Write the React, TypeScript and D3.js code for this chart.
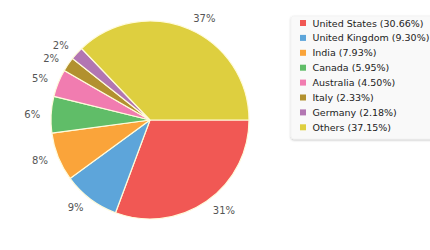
import React from "react";
import * as d3 from "d3";

const categories = ["United States", "United Kingdom", "India", "Canada", "Australia", "Italy", "Germany", "Others"];
const values = [30.66, 9.30, 7.93, 5.95, 4.50, 2.33, 2.18, 37.15];
const colors = ["#F15854", "#5DA5DA", "#FAA43A", "#60BD68", "#F17CB0", "#B2912F", "#B276B2", "#DECF3F"];

const W = 430;
const H = 250;
const cx = 150;
const cy = 120;
const R = 99;
const labelR = 110;
const font = "'DejaVu Sans', Verdana, sans-serif";

export default function App() {
  const data = categories.map((c, i) => ({ name: c, value: values[i], color: colors[i] }));
  const pie = d3
    .pie<any>()
    .sort(null)
    .value((d: any) => d.value)
    .startAngle(Math.PI / 2)
    .endAngle(Math.PI / 2 + 2 * Math.PI);
  const arcs = pie(data);
  const arc = d3.arc<any>().innerRadius(0).outerRadius(R);
  const total = d3.sum(values);

  return (
    <svg width={W} height={H} style={{ position: "absolute", left: 0, top: 0, fontFamily: font }}>
      <defs>
        <filter id="sh" x="-10%" y="-10%" width="120%" height="130%">
          <feDropShadow dx="0" dy="1" stdDeviation="1.2" floodColor="#000" floodOpacity="0.25" />
        </filter>
      </defs>
      <rect width={W} height={H} fill="#fff" />
      <g transform={`translate(${cx},${cy})`}>
        {arcs.map((a, i) => (
          <path key={i} d={arc(a) as string} fill={a.data.color} stroke="#fffbdc" strokeWidth={1.2} />
        ))}
        {arcs.map((a, i) => {
          const mid = (a.startAngle + a.endAngle) / 2;
          const x = Math.sin(mid) * labelR;
          const y = -Math.cos(mid) * labelR;
          const right = Math.sin(mid) >= 0;
          return (
            <text
              key={"l" + i}
              x={x}
              y={y}
              textAnchor={right ? "start" : "end"}
              dominantBaseline="central"
              fontSize={10}
              fill="#555"
            >
              {Math.round((a.data.value / total) * 100) + "%"}
            </text>
          );
        })}
      </g>
      <g>
        <rect x={291} y={16} width={150} height={123} rx={3} fill="#f9f9f9" stroke="#eeeeee" strokeWidth={0.5} filter="url(#sh)" />
        {data.map((d, i) => (
          <g key={"lg" + i} transform={`translate(300,${23 + i * 14.9})`}>
            <rect x={0} y={-3} width={6} height={6} fill={d.color} />
            <text x={12.5} y={0} dominantBaseline="central" fontSize={9.5} fill="#222">
              {`${d.name} (${d.value.toFixed(2)}%)`}
            </text>
          </g>
        ))}
      </g>
    </svg>
  );
}
